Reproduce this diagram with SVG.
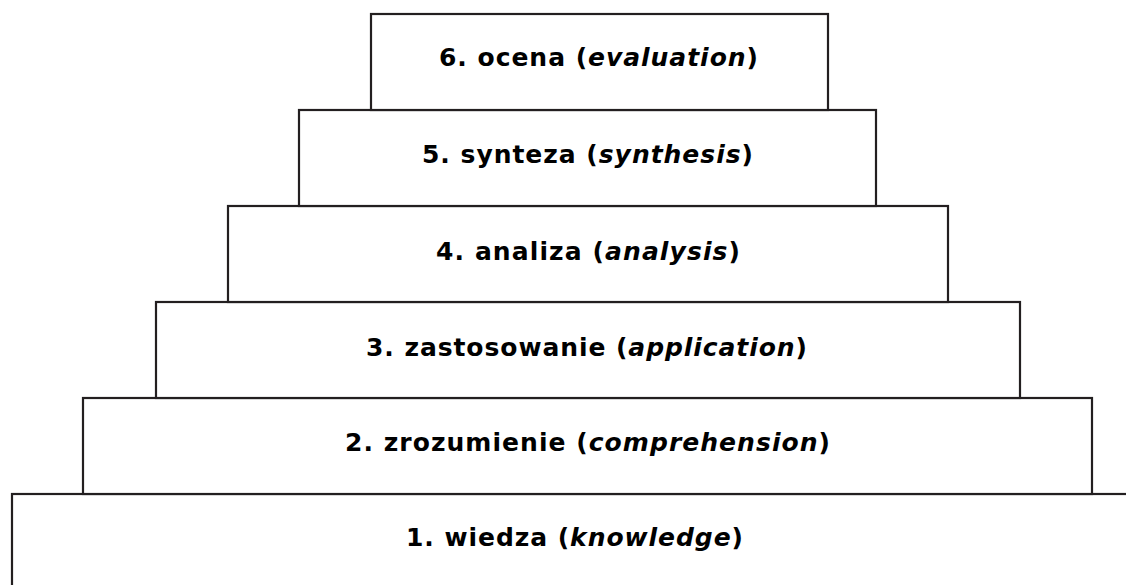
<svg xmlns="http://www.w3.org/2000/svg" width="1126" height="585" viewBox="0 0 1126 585">
<style>
.box{fill:#fff;stroke:#231f20;stroke-width:2.2}
.lbl{font-family:"DejaVu Sans",Verdana,sans-serif;font-weight:bold;font-size:25px;fill:#000;text-anchor:middle}
.it{font-style:italic}
</style>
<rect width="1126" height="585" fill="#fff"/>
<g id="level1"><rect class="box" x="12" y="494" width="1130" height="110"/><text class="lbl" x="574.5" y="546" textLength="337" lengthAdjust="spacing">1. wiedza (<tspan class="it">knowledge</tspan>)</text></g>
<g id="level2"><rect class="box" x="83" y="398" width="1009" height="96"/><text class="lbl" x="587.5" y="451" textLength="485" lengthAdjust="spacing">2. zrozumienie (<tspan class="it">comprehension</tspan>)</text></g>
<g id="level3"><rect class="box" x="156" y="302" width="864" height="96"/><text class="lbl" x="586.5" y="356" textLength="441" lengthAdjust="spacing">3. zastosowanie (<tspan class="it">application</tspan>)</text></g>
<g id="level4"><rect class="box" x="228" y="206" width="720" height="96"/><text class="lbl" x="588" y="260" textLength="304" lengthAdjust="spacing">4. analiza (<tspan class="it">analysis</tspan>)</text></g>
<g id="level5"><rect class="box" x="299" y="110" width="577" height="96"/><text class="lbl" x="587.5" y="163" textLength="331" lengthAdjust="spacing">5. synteza (<tspan class="it">synthesis</tspan>)</text></g>
<g id="level6"><rect class="box" x="371" y="14" width="457" height="96"/><text class="lbl" x="598.5" y="66" textLength="319" lengthAdjust="spacing">6. ocena (<tspan class="it">evaluation</tspan>)</text></g>
<g id="connectors"/>
</svg>
